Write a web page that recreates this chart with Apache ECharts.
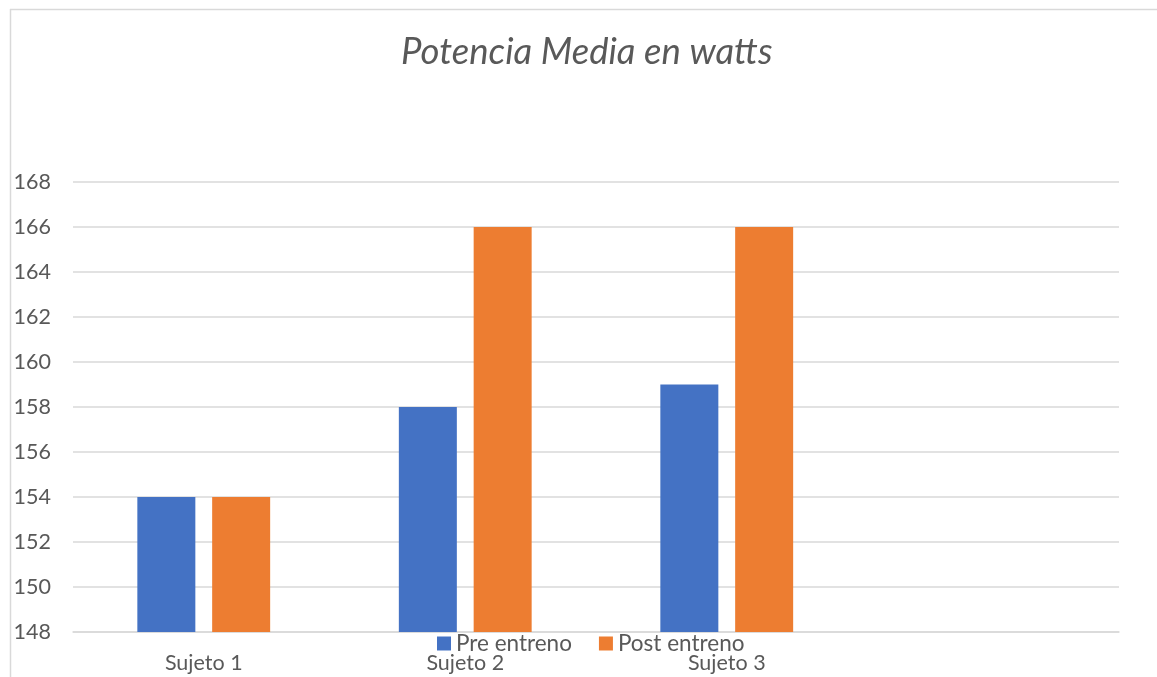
<!DOCTYPE html>
<html>
<head>
<meta charset="utf-8">
<script src="https://cdn.jsdelivr.net/npm/echarts@6/dist/echarts.min.js"></script>
<style>
  html, body { margin: 0; padding: 0; background: #ffffff; }
  #chart { width: 1157px; height: 677px; }
</style>
</head>
<body>
<div id="chart"></div>
<script>
// Average power (watts) per subject, before and after training
const categories = ['Sujeto 1', 'Sujeto 2', 'Sujeto 3', ''];
const preEntreno = [154, 158, 159, null];
const postEntreno = [154, 166, 166, null];
const seriesNames = ['Pre entreno', 'Post entreno'];
const yMin = 148, yMax = 168, yStep = 2;

const textColor = '#595959';
const gridColor = '#d9d9d9';
const font = 'Lato, "Open Sans", sans-serif';

const chart = echarts.init(document.getElementById('chart'), null, { renderer: 'canvas' });
chart.setOption({
  animation: false,
  backgroundColor: '#ffffff',
  title: {
    text: 'Potencia Media en watts',
    left: 396,
    top: 29,
    textStyle: { fontFamily: font, fontSize: 36.5, fontStyle: 'italic', fontWeight: 'normal', color: textColor }
  },
  legend: {
    data: seriesNames,
    left: 432,
    top: 627,
    itemWidth: 14,
    itemHeight: 14,
    itemGap: 27,
    icon: 'rect',
    textStyle: { fontFamily: font, fontSize: 22.5, color: textColor, padding: [0, 0, 0, 0] }
  },
  grid: { left: 73, right: 38, top: 182, bottom: 45 },
  xAxis: {
    type: 'category',
    data: categories,
    axisLine: { lineStyle: { color: gridColor, width: 1.5 } },
    axisTick: { show: false },
    axisLabel: { fontFamily: font, fontSize: 21.5, color: textColor, margin: 20 }
  },
  yAxis: {
    type: 'value',
    min: yMin,
    max: yMax,
    interval: yStep,
    axisLine: { show: false },
    axisTick: { show: false },
    splitLine: { lineStyle: { color: gridColor, width: 1.5 } },
    axisLabel: { fontFamily: font, fontSize: 21.5, color: textColor, margin: 22 }
  },
  series: [
    {
      name: seriesNames[0],
      type: 'bar',
      data: preEntreno,
      barWidth: 58,
      barGap: '29%',
      itemStyle: { color: '#4472c4' }
    },
    {
      name: seriesNames[1],
      type: 'bar',
      data: postEntreno,
      barWidth: 58,
      barGap: '29%',
      itemStyle: { color: '#ed7d31' }
    }
  ],
  graphic: [
    { type: 'line', shape: { x1: 10, y1: 9.5, x2: 1157, y2: 9.5 }, style: { stroke: gridColor, lineWidth: 1.5 }, silent: true },
    { type: 'line', shape: { x1: 10.5, y1: 9, x2: 10.5, y2: 677 }, style: { stroke: gridColor, lineWidth: 1.5 }, silent: true }
  ]
});
</script>
</body>
</html>
